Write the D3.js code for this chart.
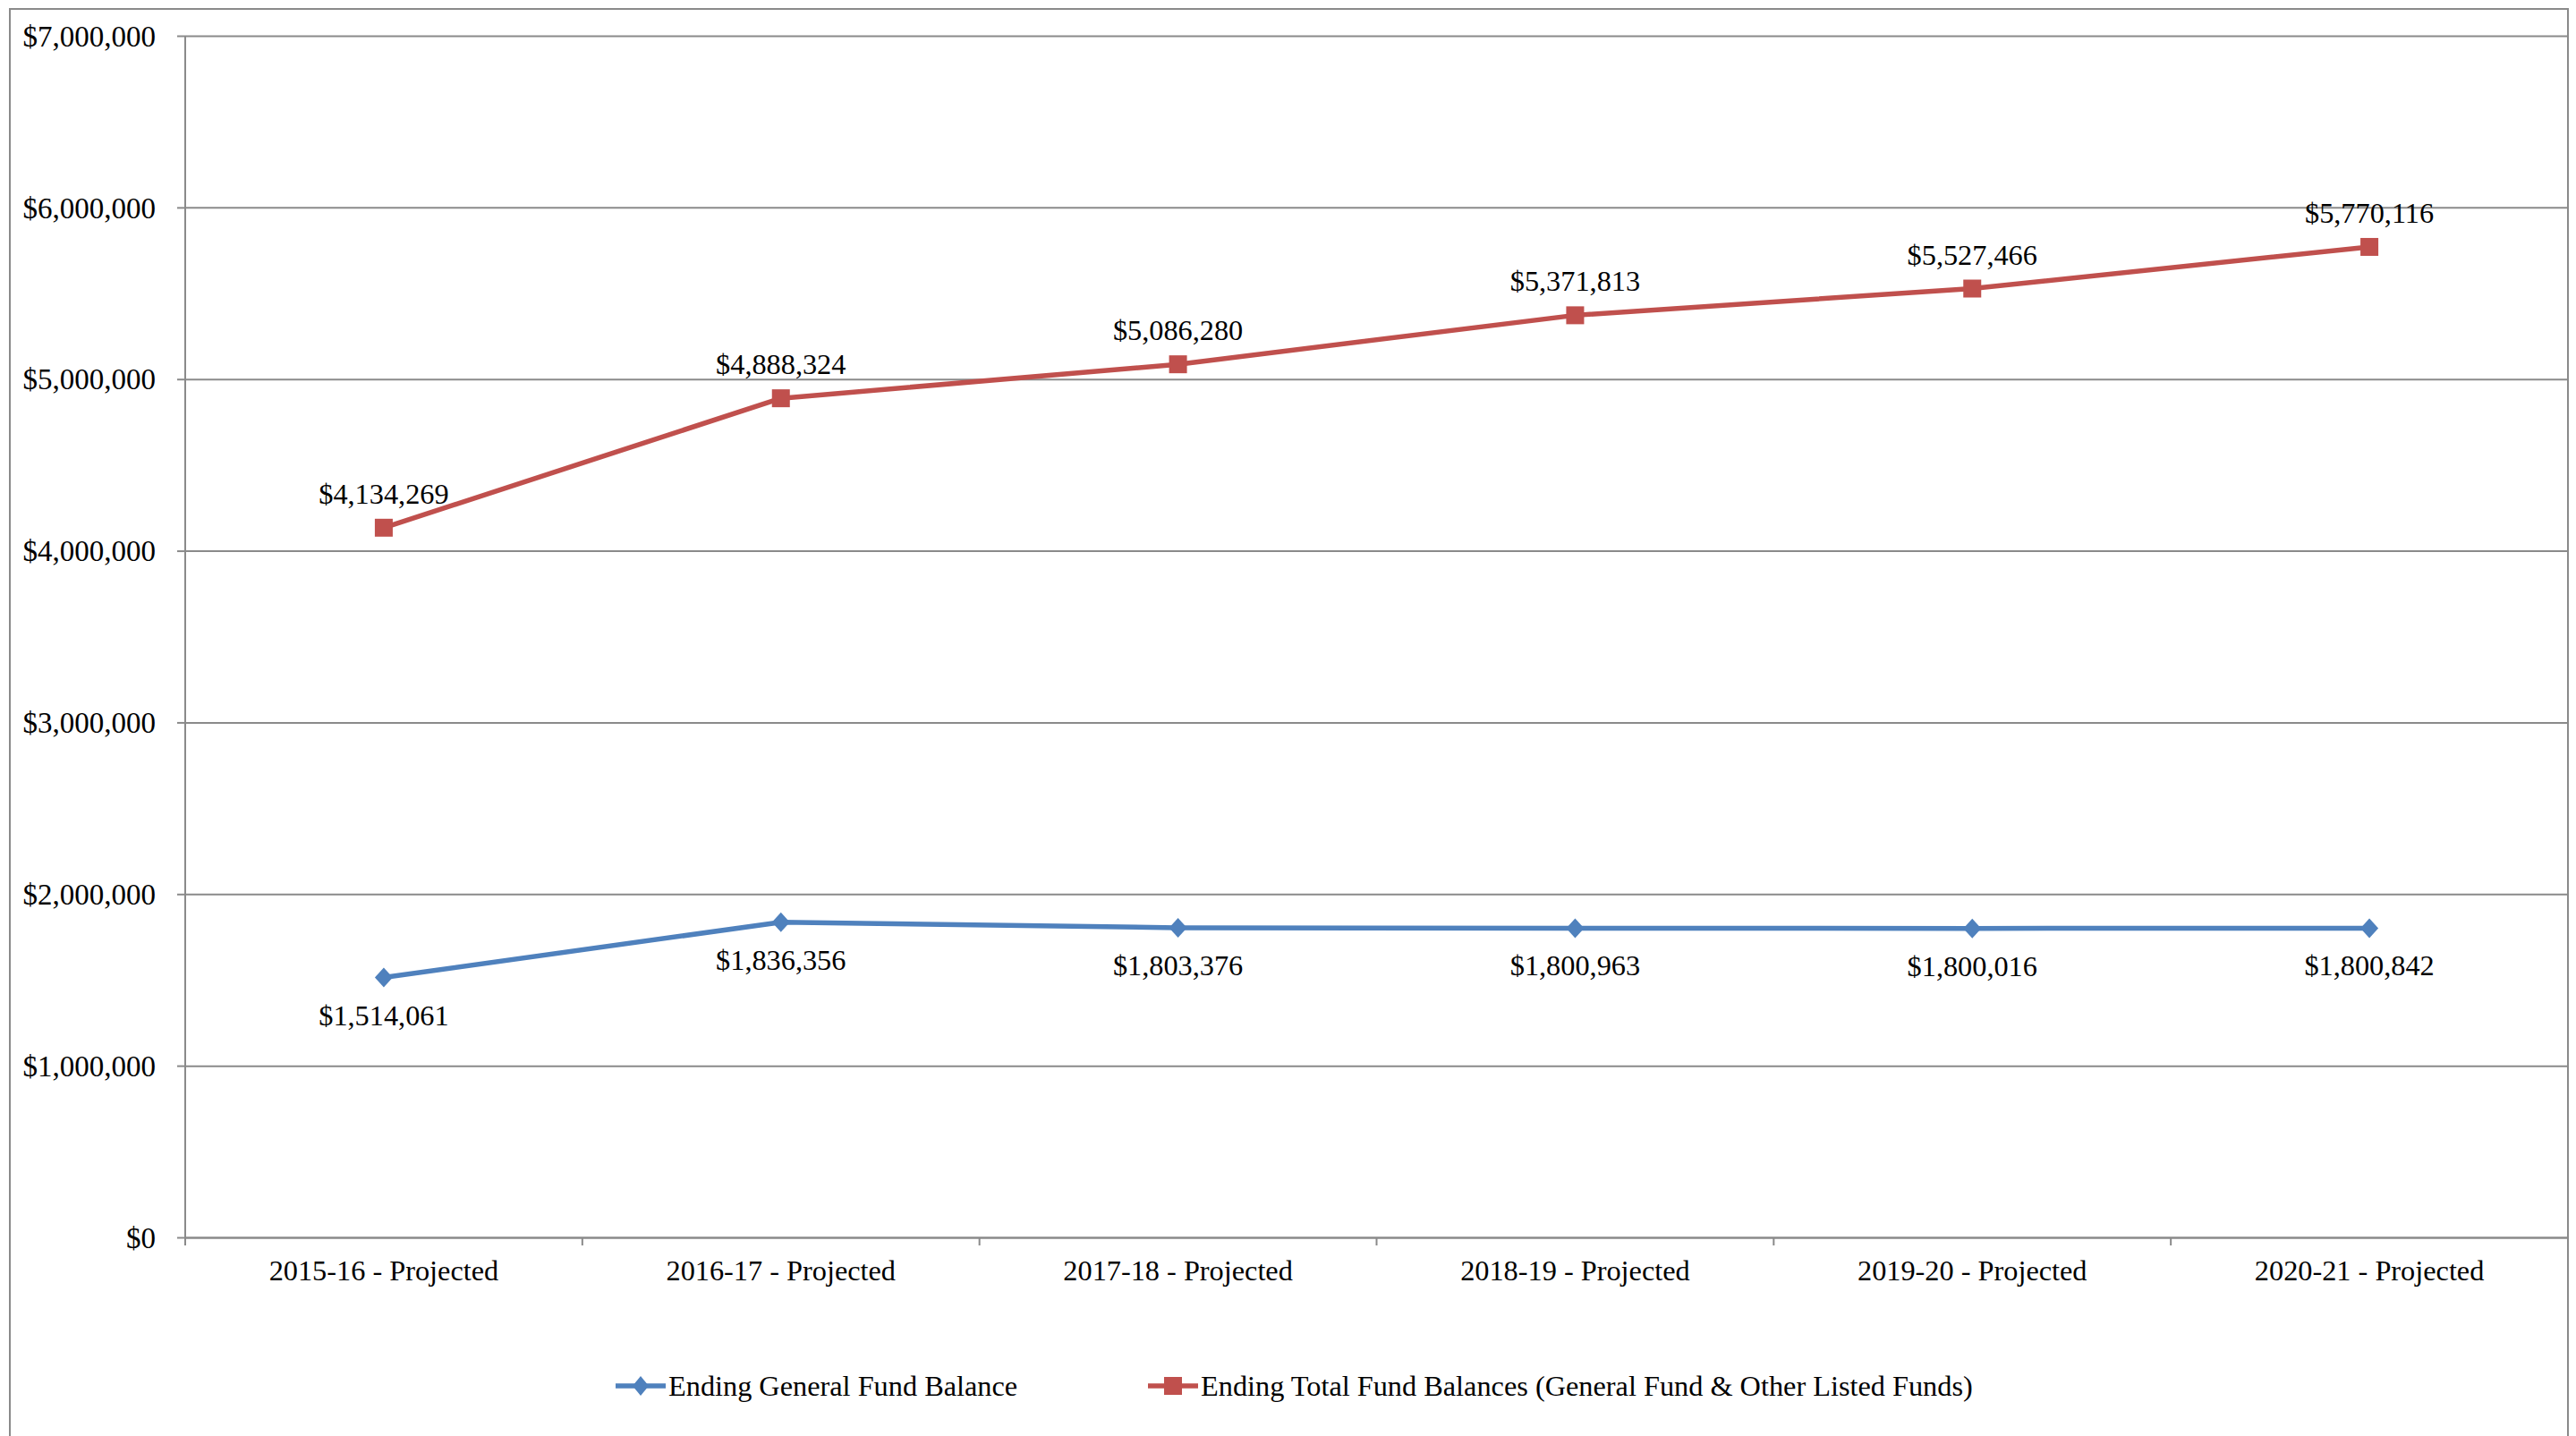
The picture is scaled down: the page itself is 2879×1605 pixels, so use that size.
<!DOCTYPE html>
<html>
<head>
<meta charset="utf-8">
<script src="https://cdn.jsdelivr.net/npm/d3@7"></script>
<style>
  html, body { margin: 0; padding: 0; background: #fff; }
  svg { display: block; }
  text { font-family: "Liberation Serif", "Times New Roman", serif; fill: #000; }
</style>
</head>
<body>
<svg id="chart" width="2879" height="1605"></svg>
<script>
// Fiscal years on the category axis
const categories = [
  "2015-16 - Projected", "2016-17 - Projected", "2017-18 - Projected",
  "2018-19 - Projected", "2019-20 - Projected", "2020-21 - Projected"
];
// Ending balances per year
const generalFund = [1514061, 1836356, 1803376, 1800963, 1800016, 1800842];
const totalFunds  = [4134269, 4888324, 5086280, 5371813, 5527466, 5770116];
// Value axis ticks
const yTicks = [0, 1000000, 2000000, 3000000, 4000000, 5000000, 6000000, 7000000];
const seriesNames = [
  "Ending General Fund Balance",
  "Ending Total Fund Balances (General Fund & Other Listed Funds)"
];

const W = 2879, H = 1605;
const plot = { left: 207, right: 2870, top: 40, bottom: 1383 };
const gridColor = "#8a8a8a";
const blue = "#4F81BD", red = "#C0504D";
const fontSize = 32.3;
const money = v => "$" + d3.format(",")(v);

const svg = d3.select("#chart");

// Chart area frame
svg.append("rect")
  .attr("x", 11).attr("y", 10)
  .attr("width", plot.right - 11).attr("height", H + 20)
  .attr("fill", "#fff").attr("stroke", gridColor).attr("stroke-width", 2);

const x = d3.scaleBand().domain(categories).range([plot.left, plot.right]).padding(0);
const cx = c => x(c) + x.bandwidth() / 2;
const y = d3.scaleLinear().domain([0, 7000000]).range([plot.bottom, plot.top]);

// Horizontal gridlines + value axis labels
const yAxis = d3.axisLeft(y)
  .tickValues(yTicks)
  .tickFormat(money)
  .tickSize(-(plot.right - plot.left))
  .tickPadding(33);
const gy = svg.append("g").attr("transform", `translate(${plot.left},0)`).call(yAxis);
gy.select(".domain").remove();
gy.selectAll(".tick line").attr("stroke", gridColor).attr("stroke-width", 2);
gy.selectAll(".tick text")
  .attr("font-size", fontSize + 0.7)
  .attr("font-family", "Liberation Serif, Times New Roman, serif")
  .attr("dy", "0.34em");
// short outer tick marks on the value axis
gy.selectAll(".tick").append("line")
  .attr("x1", -9).attr("x2", 0)
  .attr("stroke", gridColor).attr("stroke-width", 2);

// Vertical axis line
svg.append("line")
  .attr("x1", plot.left).attr("x2", plot.left)
  .attr("y1", plot.top).attr("y2", plot.bottom)
  .attr("stroke", gridColor).attr("stroke-width", 2);

// Category axis: labels centred in each band, ticks on band boundaries
const xAxis = d3.axisBottom(x).tickSize(0).tickPadding(25);
const gx = svg.append("g").attr("transform", `translate(0,${plot.bottom})`).call(xAxis);
gx.select(".domain").attr("stroke", gridColor).attr("stroke-width", 2);
gx.selectAll(".tick text")
  .attr("font-size", fontSize)
  .attr("font-family", "Liberation Serif, Times New Roman, serif");
const boundaries = categories.map(c => x(c)).concat([plot.right]);
svg.append("g").selectAll("line").data(boundaries).join("line")
  .attr("x1", d => d).attr("x2", d => d)
  .attr("y1", plot.bottom).attr("y2", plot.bottom + 9)
  .attr("stroke", gridColor).attr("stroke-width", 2);

const line = d3.line().x(d => cx(d.c)).y(d => y(d.v));
const blueData = categories.map((c, i) => ({ c, v: generalFund[i] }));
const redData = categories.map((c, i) => ({ c, v: totalFunds[i] }));

// Ending General Fund Balance
svg.append("path").datum(blueData)
  .attr("d", line).attr("fill", "none")
  .attr("stroke", blue).attr("stroke-width", 5.5).attr("stroke-linejoin", "round");
const diamond = (px, py, w, h) => `M${px},${py - h / 2}L${px + w / 2},${py}L${px},${py + h / 2}L${px - w / 2},${py}Z`;
svg.append("g").selectAll("path").data(blueData).join("path")
  .attr("d", d => diamond(cx(d.c), y(d.v), 20, 22))
  .attr("fill", blue);
svg.append("g").selectAll("text").data(blueData).join("text")
  .attr("x", d => cx(d.c)).attr("y", d => y(d.v) + 53)
  .attr("text-anchor", "middle").attr("font-size", fontSize)
  .text(d => money(d.v));

// Ending Total Fund Balances
svg.append("path").datum(redData)
  .attr("d", line).attr("fill", "none")
  .attr("stroke", red).attr("stroke-width", 5.5).attr("stroke-linejoin", "round");
svg.append("g").selectAll("rect").data(redData).join("rect")
  .attr("x", d => cx(d.c) - 10).attr("y", d => y(d.v) - 10)
  .attr("width", 20).attr("height", 20)
  .attr("fill", red);
svg.append("g").selectAll("text").data(redData).join("text")
  .attr("x", d => cx(d.c)).attr("y", d => y(d.v) - 27)
  .attr("text-anchor", "middle").attr("font-size", fontSize)
  .text(d => money(d.v));

// Legend
const legendY = 1549;
const legend = svg.append("g");
const lg1 = legend.append("g").attr("transform", `translate(688,${legendY})`);
lg1.append("line").attr("x1", 0).attr("x2", 56).attr("stroke", blue).attr("stroke-width", 5.5);
lg1.append("path").attr("d", diamond(28, 0, 18, 22)).attr("fill", blue);
lg1.append("text").attr("x", 59).attr("dy", "0.34em").attr("font-size", fontSize).text(seriesNames[0]);

const lg2 = legend.append("g").attr("transform", `translate(1283,${legendY})`);
lg2.append("line").attr("x1", 0).attr("x2", 56).attr("stroke", red).attr("stroke-width", 5.5);
lg2.append("rect").attr("x", 18).attr("y", -10).attr("width", 20).attr("height", 20).attr("fill", red);
lg2.append("text").attr("x", 59).attr("dy", "0.34em").attr("font-size", fontSize).text(seriesNames[1]);
</script>
</body>
</html>
